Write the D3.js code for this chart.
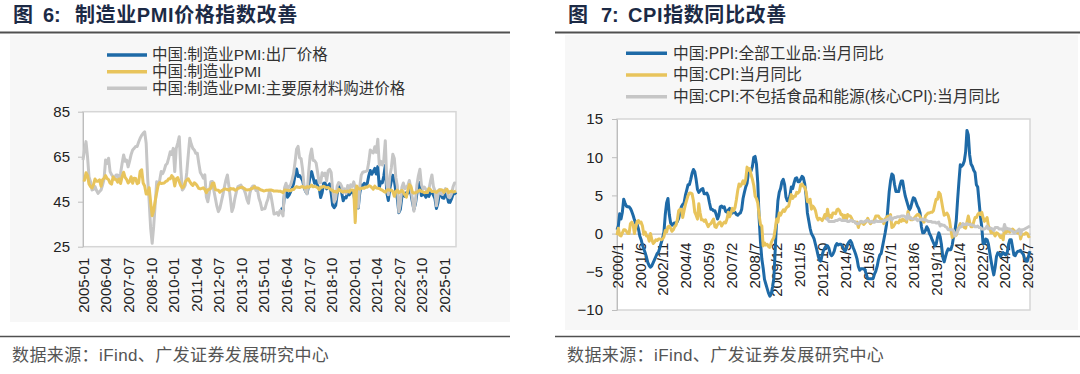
<!DOCTYPE html>
<html><head><meta charset="utf-8">
<script src="https://cdn.jsdelivr.net/npm/d3@7"></script>
<style>
body{margin:0;background:#fff}
svg{display:block}
</style></head>
<body>
<svg id="c" width="1080" height="374"></svg>
<script>
// ---------------- DATA ----------------
// Left chart: monthly 2005-01 .. 2025-09
const pmiStart = [2005, 1];
const pmiTickLabels = ["2005-01","2006-04","2007-07","2008-10","2010-01","2011-04","2012-07","2013-10","2015-01","2016-04","2017-07","2018-10","2020-01","2021-04","2022-07","2023-10","2025-01"];
const pmiYTicks = [25, 45, 65, 85];

const pmi = [
54.7,54.5,57.9,56.7,52.9,51.7,51.1,52.6,55.1,54.1,54.1,54.7,
51.9,54.8,55.3,56.6,55.3,54.8,53.3,52.8,56.0,55.0,54.9,53.7,
55.1,53.1,56.1,58.1,55.8,54.9,53.3,54.0,56.1,53.2,55.4,55.3,
53.0,53.4,58.4,59.2,53.3,52.0,48.4,48.4,51.2,44.6,38.8,41.2,
45.3,49.0,52.4,53.5,53.1,53.2,53.3,54.0,54.3,55.2,55.2,56.6,
55.8,52.0,55.1,55.7,53.9,52.1,51.2,51.7,53.8,54.7,55.2,53.9,
52.9,52.2,53.4,52.9,52.0,50.9,50.7,50.9,51.2,50.4,49.0,50.3,
50.5,51.0,53.1,53.3,50.4,50.2,50.1,49.2,49.8,50.2,50.6,50.6,
50.4,50.1,50.9,50.6,50.8,50.1,50.3,51.0,51.1,51.4,51.4,51.0,
50.5,50.2,50.3,50.4,50.8,51.0,51.7,51.1,51.1,50.8,50.3,50.1,
49.8,49.9,50.1,50.1,50.2,50.2,50.0,49.7,49.8,49.8,49.6,49.7,
49.4,49.0,50.2,50.1,50.1,50.0,49.9,50.4,50.4,51.2,51.7,51.4,
51.3,51.6,51.8,51.2,51.2,51.7,51.4,51.7,52.4,51.6,51.8,51.6,
51.3,50.3,51.5,51.4,51.9,51.5,51.2,51.3,50.8,50.2,50.0,49.4,
49.5,49.2,50.5,50.1,49.4,49.4,49.7,49.5,49.8,49.3,50.2,50.2,
50.0,35.7,52.0,50.8,50.6,50.9,51.1,51.0,51.5,51.4,52.1,51.9,
51.3,50.6,51.9,51.1,51.0,50.9,50.4,50.1,49.6,49.2,50.1,50.3,
50.1,50.2,49.5,47.4,49.6,50.2,49.0,49.4,50.1,49.2,48.0,47.0,
50.1,52.6,51.9,49.2,48.8,49.0,49.3,49.7,50.2,49.5,49.4,49.0,
49.2,49.1,50.8,50.4,49.5,49.5,49.4,49.1,49.8,50.1,50.3,50.1,
49.1,50.2,50.5,49.0,49.5,49.7,49.3,49.4,49.8
];

const pmiInput = [
63.5,68.0,71.7,65.0,56.0,53.9,50.2,50.5,51.7,50.0,48.7,49.5,
50.2,52.4,55.0,63.5,62.0,64.3,58.4,57.0,56.1,55.5,56.9,56.9,
53.9,57.6,62.0,65.8,63.0,63.5,60.5,63.0,66.0,68.0,68.7,69.5,
69.5,71.5,73.2,74.5,75.4,76.1,71.0,55.4,45.0,33.0,26.5,34.0,
44.0,53.9,52.5,54.5,58.4,57.5,59.0,61.3,62.0,64.5,67.2,66.0,
68.7,58.4,68.7,71.0,73.9,60.0,50.2,51.0,52.4,58.0,65.8,73.2,
70.5,68.7,68.0,66.5,66.5,62.0,58.0,56.9,55.5,56.9,47.2,45.0,
49.0,53.9,54.0,50.0,46.5,43.0,40.6,42.0,45.0,48.0,51.5,54.6,
56.9,52.0,46.5,40.6,42.5,46.5,49.5,51.7,52.0,52.4,51.0,50.5,
48.7,46.0,44.3,49.0,51.0,52.0,52.0,50.0,50.2,46.5,44.5,41.5,
41.9,41.9,44.4,46.2,49.6,47.7,43.6,39.5,39.7,40.2,39.0,41.1,
40.4,38.7,51.2,53.2,50.2,51.8,52.4,54.7,57.5,62.6,68.3,69.6,
64.5,64.2,59.3,51.8,49.6,48.5,57.9,65.3,68.4,63.4,63.2,62.2,
58.0,53.4,53.4,57.9,56.7,57.7,54.3,58.7,59.4,58.0,50.3,44.8,
46.3,51.9,53.5,53.1,51.8,49.0,50.7,48.6,52.2,50.4,52.5,51.8,
53.8,51.4,45.5,42.5,51.6,56.8,58.1,58.3,58.5,58.8,62.6,68.0,
67.1,66.7,69.4,66.9,72.8,61.2,62.9,61.3,63.5,72.1,52.9,48.1,
56.4,60.0,66.1,64.2,55.8,52.0,40.4,44.3,51.3,53.3,50.7,51.6,
52.2,54.4,50.9,46.4,40.8,45.0,52.4,56.5,59.4,52.6,50.7,51.5,
50.4,50.1,50.5,54.0,56.9,51.7,49.9,43.2,47.8,50.4,48.6,48.2,
49.5,50.8,49.8,47.0,46.9,48.4,51.5,53.3,53.2
];

// output price index starts 2016-01
const pmiOutputStart = [2016, 1];
const pmiOutput = [
42.5,41.0,48.6,50.7,47.0,47.9,49.4,51.1,53.0,56.8,59.5,56.2,
56.6,55.6,54.4,51.3,49.6,48.6,52.2,56.4,58.4,55.7,53.2,54.3,
52.0,51.3,46.9,49.0,53.2,53.3,50.7,52.0,52.9,48.8,43.3,42.3,
43.3,48.5,51.4,52.0,49.0,45.4,46.9,46.7,49.9,48.0,49.0,49.2,
48.7,43.8,43.4,42.2,48.7,52.4,52.2,53.2,52.5,53.1,56.5,58.9,
57.2,58.5,59.8,57.3,60.6,51.4,53.8,53.4,56.4,61.1,48.9,45.5,
50.9,54.1,56.7,54.4,49.5,46.3,40.1,41.6,47.1,48.7,47.4,49.0,
48.8,51.2,48.6,44.9,41.6,43.9,48.6,52.0,53.5,47.7,48.2,48.2,
47.0,48.1,47.4,49.1,49.3,47.9,46.3,42.0,44.5,48.9,48.2,46.7,
46.5,48.5,47.9,44.8,44.7,46.2,48.3,49.1,48.2
];

// Right chart: monthly 2000-01 .. 2025-09
const cpiStart = [2000, 1];
const cpiTickLabels = ["2000/1","2001/6","2002/11","2004/4","2005/9","2007/2","2008/7","2009/12","2011/5","2012/10","2014/3","2015/8","2017/1","2018/6","2019/11","2021/4","2022/9","2024/2","2025/7"];
const cpiYTicks = [-10, -5, 0, 5, 10, 15];

const ppi = [
0.5,1.0,2.6,1.9,2.8,4.5,4.0,3.6,3.5,3.5,3.3,2.9,
2.4,1.8,1.3,1.2,0.6,-0.3,-0.8,-1.5,-2.0,-2.5,-3.1,-3.8,
-4.2,-4.4,-4.2,-3.8,-3.4,-3.0,-2.6,-2.4,-1.8,-1.2,-0.6,0.2,
2.5,4.0,4.6,2.5,1.4,1.1,1.3,1.4,1.3,1.6,2.0,2.8,
3.5,3.8,4.0,5.0,5.7,6.4,6.4,7.1,7.9,8.4,8.1,7.1,
5.8,5.4,5.6,5.8,5.9,5.2,5.2,5.3,4.9,4.0,3.2,3.2,
3.0,3.0,2.5,1.9,2.4,3.5,3.6,3.4,3.5,2.9,2.8,3.1,
3.3,2.6,2.7,2.9,2.8,2.5,2.4,2.6,2.7,3.2,4.6,5.4,
6.1,6.6,8.0,8.1,8.2,8.8,10.0,10.1,9.1,6.6,2.0,-1.1,
-3.3,-4.5,-6.0,-6.6,-7.2,-7.8,-8.2,-7.9,-7.0,-5.8,-2.1,1.7,
4.3,5.4,5.9,6.8,7.1,6.4,4.8,4.3,4.3,5.0,6.1,5.9,
6.6,7.2,7.3,6.8,6.8,7.1,7.5,7.3,6.5,5.0,2.7,1.7,
0.7,0.0,-0.3,-0.7,-1.4,-2.1,-2.9,-3.5,-3.6,-2.8,-2.2,-1.9,
-1.6,-1.6,-1.9,-2.6,-2.9,-2.7,-2.3,-1.6,-1.3,-1.5,-1.4,-1.4,
-1.6,-2.0,-2.3,-2.0,-1.4,-1.1,-0.9,-1.2,-1.8,-2.2,-2.7,-3.3,
-4.3,-4.8,-4.6,-4.6,-4.6,-4.8,-5.4,-5.9,-5.9,-5.9,-5.9,-5.9,
-5.3,-4.9,-4.3,-3.4,-2.8,-2.6,-1.7,-0.8,0.1,1.2,3.3,5.5,
6.9,7.8,7.6,6.4,5.5,5.5,5.5,6.3,6.9,6.9,5.8,4.9,
4.3,3.7,3.1,3.4,4.1,4.7,4.6,4.1,3.6,3.3,2.7,0.9,
0.1,0.1,0.4,0.9,0.6,0.0,-0.3,-0.8,-1.2,-1.6,-1.4,-0.5,
0.1,-0.4,-1.5,-3.1,-3.7,-3.0,-2.4,-2.0,-2.1,-2.1,-1.5,-0.4,
0.3,1.7,4.4,6.8,9.0,8.8,9.0,9.5,10.7,13.5,12.9,10.3,
9.1,8.8,8.3,8.0,6.4,6.1,4.2,2.3,0.9,-1.3,-1.3,-0.7,
-0.8,-1.4,-2.5,-3.6,-4.6,-5.4,-4.4,-3.0,-2.5,-2.6,-3.0,-2.7,
-2.5,-2.7,-2.8,-2.5,-1.4,-0.8,-0.8,-1.8,-2.8,-2.9,-2.5,-2.3,
-2.3,-2.2,-2.5,-2.7,-3.3,-3.6,-3.6,-2.9,-2.3
];

const cpi = [
-0.2,0.7,-0.2,-0.3,0.1,0.5,0.5,0.3,0.0,0.0,1.3,1.5,
1.2,0.0,0.8,1.6,1.7,1.4,1.5,1.0,-0.1,0.2,-0.3,-0.3,
-1.0,0.0,-0.8,-1.3,-1.1,-0.8,-0.9,-0.7,-0.7,-0.8,-0.7,-0.4,
0.4,0.2,0.9,1.0,0.7,0.3,0.5,0.9,1.1,1.8,3.0,3.2,
3.2,2.1,3.0,3.8,4.4,5.0,5.3,5.3,5.2,4.3,2.8,2.4,
1.9,3.9,2.7,1.8,1.8,1.6,1.8,1.3,0.9,1.2,1.3,1.6,
1.9,0.9,0.8,1.2,1.4,1.5,1.0,1.3,1.5,1.4,1.9,2.8,
2.2,2.7,3.3,3.0,3.4,4.4,5.6,6.5,6.2,6.5,6.9,6.5,
7.1,8.7,8.3,8.5,7.7,7.1,6.3,4.9,4.6,4.0,2.4,1.2,
1.0,-1.6,-1.2,-1.5,-1.4,-1.7,-1.8,-1.2,-0.8,-0.5,0.6,1.9,
1.5,2.7,2.4,2.8,3.1,2.9,3.3,3.5,3.6,4.4,5.1,4.6,
4.9,4.9,5.4,5.3,5.5,6.4,6.5,6.2,6.1,5.5,4.2,4.1,
4.5,3.2,3.6,3.4,3.0,2.2,1.8,2.0,1.9,1.7,2.0,2.5,
2.0,3.2,2.1,2.4,2.1,2.7,2.7,2.6,3.1,3.2,3.0,2.5,
2.5,2.0,2.4,1.8,2.5,2.3,2.3,2.0,1.6,1.6,1.4,1.5,
0.8,1.4,1.4,1.5,1.2,1.4,1.6,2.0,1.6,1.3,1.5,1.6,
1.8,2.3,2.3,2.3,2.0,1.9,1.8,1.3,1.9,2.1,2.3,2.1,
2.5,0.8,0.9,1.2,1.5,1.5,1.4,1.8,1.6,1.9,1.7,1.8,
1.5,2.9,2.1,1.8,1.8,1.9,2.1,2.3,2.5,2.5,2.2,1.9,
1.7,1.5,2.3,2.5,2.7,2.7,2.8,2.8,3.0,3.8,4.5,4.5,
5.4,5.2,4.3,3.3,2.4,2.5,2.7,2.4,1.7,0.5,-0.5,0.2,
-0.3,-0.2,0.4,0.9,1.3,1.1,1.0,0.8,0.7,1.5,2.3,1.5,
0.9,0.9,1.5,2.1,2.1,2.5,2.7,2.5,2.8,2.1,1.6,1.8,
2.1,1.0,0.7,0.1,0.2,0.0,-0.3,0.1,0.0,-0.2,-0.5,-0.3,
-0.8,0.7,0.1,0.3,0.3,0.2,0.5,0.6,0.4,0.3,0.2,0.1,
0.5,-0.7,-0.1,-0.1,-0.1,0.1,0.0,-0.4,-0.3
];

// core CPI starts 2013-01
const coreStart = [2013, 1];
const coreCpi = [
1.7,2.0,1.6,1.6,1.6,1.6,1.6,1.7,1.7,1.8,1.9,1.8,
1.7,1.7,1.7,1.7,1.6,1.6,1.7,1.7,1.6,1.6,1.4,1.3,
1.3,1.5,1.6,1.5,1.5,1.6,1.7,1.7,1.6,1.5,1.6,1.5,
1.5,1.7,1.6,1.6,1.6,1.6,1.6,1.7,1.7,1.8,1.9,1.9,
2.2,1.8,2.0,2.1,2.1,2.2,2.2,2.2,2.3,2.3,2.3,2.2,
1.9,2.5,2.0,2.1,1.9,1.9,1.9,2.0,1.7,1.8,1.8,1.8,
1.9,1.8,1.8,1.7,1.6,1.6,1.6,1.5,1.5,1.5,1.4,1.4,
1.5,1.0,1.2,1.1,1.1,0.9,0.8,0.5,0.5,0.5,0.5,0.4,
-0.3,0.0,0.3,0.7,0.9,0.9,1.3,1.2,1.2,1.3,1.2,1.2,
1.2,1.1,1.1,0.9,0.9,1.0,0.8,0.8,0.6,0.6,0.6,0.7,
1.0,0.6,0.7,0.7,0.6,0.4,0.8,0.8,0.8,0.6,0.6,0.6,
0.4,1.2,0.6,0.7,0.6,0.6,0.4,0.3,0.1,0.2,0.3,0.4,
0.6,-0.1,0.5,0.5,0.6,0.7,0.8,0.9,1.0
];

const leftNames = ["中国:制造业PMI:出厂价格","中国:制造业PMI","中国:制造业PMI:主要原材料购进价格"];
const rightNames = ["中国:PPI:全部工业品:当月同比","中国:CPI:当月同比","中国:CPI:不包括食品和能源(核心CPI):当月同比"];
const leftTitle = ["图", "6:", "制造业PMI价格指数改善"];
const rightTitle = ["图", "7:", "CPI指数同比改善"];
const sourceText = "数据来源：iFind、广发证券发展研究中心";

// ---------------- HELPERS ----------------
const COL = {blue:"#1e6aa7", yellow:"#e8c45c", gray:"#c6c6c6"};
const FONT = '"Liberation Sans", Arial, "Noto Sans CJK SC", sans-serif';
const svg = d3.select("#c").style("font-family", FONT);

function months(start, n, sep, pad) {
  const out = [];
  let [y, m] = start;
  for (let i = 0; i < n; i++) {
    out.push(y + sep + (pad && m < 10 ? "0" + m : m));
    m++; if (m > 12) { m = 1; y++; }
  }
  return out;
}
function offsetOf(start, sub) { return (sub[0]-start[0])*12 + (sub[1]-start[1]); }

// ---------------- FRAME ----------------
function frame(left, x0, x1, title, tx) {
  svg.append("rect").attr("x", left ? 10 : 565).attr("y", 35)
    .attr("width", left ? 500 : 513).attr("height", left ? 287 : 295)
    .attr("fill", "#f7f7f7");
  const t = svg.append("text").attr("y", 22)
    .attr("font-size", 20).attr("font-weight", "bold").attr("fill", "#1c2a45");
  title.forEach((s, i) => t.append("tspan").attr("x", tx[i])
    .attr("letter-spacing", i === 2 ? 0.6 : 0).text(s));
  svg.append("line").attr("x1", x0).attr("x2", x1).attr("y1", 32.5).attr("y2", 32.5)
    .attr("stroke", "#505050").attr("stroke-width", 2);
  svg.append("line").attr("x1", x0).attr("x2", x1).attr("y1", 336.5).attr("y2", 336.5)
    .attr("stroke", "#505050").attr("stroke-width", 1.5);
  svg.append("text").attr("x", left ? 12 : 567).attr("y", 361)
    .attr("font-size", 17).attr("fill", "#555").attr("letter-spacing", 0.4).text(sourceText);
}
frame(true, 0, 510, leftTitle, [13, 43, 75]);
frame(false, 555, 1080, rightTitle, [568, 601, 628]);

// ---------------- LEFT CHART ----------------
(function(){
  const L = 83, R = 456, T = 111.7, B = 246.7;
  const cats = months(pmiStart, pmi.length, "-", true);
  const x = d3.scalePoint().domain(cats).range([L, R]);
  const y = d3.scaleLinear().domain([25, 85]).range([B, T]);
  svg.append("rect").attr("x", L).attr("y", T).attr("width", R-L).attr("height", B-T)
    .attr("fill", "#fff").attr("stroke", "#d6d6d6").attr("stroke-width", 1.5);

  const ya = svg.append("g").attr("transform", `translate(${L},0)`)
    .call(d3.axisLeft(y).tickValues(pmiYTicks).tickSize(5).tickSizeOuter(0).tickPadding(8));
  ya.select(".domain").attr("stroke", "#bdbdbd");
  ya.selectAll(".tick line").attr("stroke", "#bdbdbd");
  ya.selectAll("text").attr("font-size", 15).attr("fill", "#222").style("font-family", FONT);

  const xa = svg.append("g").attr("transform", `translate(0,${B})`)
    .call(d3.axisBottom(x).tickValues(pmiTickLabels).tickSize(0).tickSizeOuter(0));
  xa.select(".domain").remove();
  xa.selectAll("text").attr("font-size", 15).attr("fill", "#222").style("font-family", FONT)
    .attr("transform", "rotate(-90)").attr("text-anchor", "end")
    .attr("x", -11).attr("y", 0).attr("dy", "0.36em");

  const line = d3.line().defined(d => d[1] != null).x(d => x(d[0])).y(d => y(d[1]));
  const outOff = offsetOf(pmiStart, pmiOutputStart);
  const sOut = pmiOutput.map((v, i) => [cats[i + outOff], v]);
  const sPmi = pmi.map((v, i) => [cats[i], v]);
  const sIn = pmiInput.map((v, i) => [cats[i], v]);
  [[sOut, COL.blue], [sIn, COL.gray], [sPmi, COL.yellow]].forEach(([s, c]) => {
    svg.append("path").datum(s).attr("d", line).attr("fill", "none")
      .attr("stroke", c).attr("stroke-width", 3).attr("stroke-linejoin", "round");
  });

  const ly = [55, 71.7, 88.3];
  [COL.blue, COL.yellow, COL.gray].forEach((c, i) => {
    svg.append("line").attr("x1", 107).attr("x2", 147).attr("y1", ly[i]).attr("y2", ly[i])
      .attr("stroke", c).attr("stroke-width", 3.5);
    svg.append("text").attr("x", 152).attr("y", ly[i]).attr("dy", "0.35em")
      .attr("font-size", 15.5).attr("fill", "#333").text(leftNames[i]);
  });
})();

// ---------------- RIGHT CHART ----------------
(function(){
  const L = 617, R = 1030, T = 119, B = 310;
  const cats = months(cpiStart, cpi.length, "/", false);
  const x = d3.scalePoint().domain(cats).range([L, R]);
  const y = d3.scaleLinear().domain([-10, 15]).range([B, T]);
  svg.append("rect").attr("x", L).attr("y", T).attr("width", R-L).attr("height", B-T)
    .attr("fill", "#fff").attr("stroke", "#d6d6d6").attr("stroke-width", 1.5);

  const ya = svg.append("g").attr("transform", `translate(${L},0)`)
    .call(d3.axisLeft(y).tickValues(cpiYTicks).tickSize(5).tickSizeOuter(0).tickPadding(9));
  ya.select(".domain").attr("stroke", "#bdbdbd");
  ya.selectAll(".tick line").attr("stroke", "#bdbdbd");
  ya.selectAll("text").attr("font-size", 15).attr("fill", "#222").style("font-family", FONT);

  const xa = svg.append("g").attr("transform", `translate(0,${y(0)})`)
    .call(d3.axisBottom(x).tickValues(cpiTickLabels).tickSize(0).tickSizeOuter(0));
  xa.select(".domain").attr("stroke", "#bdbdbd").attr("stroke-width", 1.2);
  xa.selectAll("text").attr("font-size", 15).attr("fill", "#222").style("font-family", FONT)
    .attr("transform", "rotate(-90)").attr("text-anchor", "end")
    .attr("x", -9).attr("y", 0).attr("dy", "0.36em");

  const line = d3.line().defined(d => d[1] != null).x(d => x(d[0])).y(d => y(d[1]));
  const coreOff = offsetOf(cpiStart, coreStart);
  const sPpi = ppi.map((v, i) => [cats[i], v]);
  const sCpi = cpi.map((v, i) => [cats[i], v]);
  const sCore = coreCpi.map((v, i) => [cats[i + coreOff], v]);
  [[sPpi, COL.blue], [sCpi, COL.yellow], [sCore, COL.gray]].forEach(([s, c]) => {
    svg.append("path").datum(s).attr("d", line).attr("fill", "none")
      .attr("stroke", c).attr("stroke-width", 3).attr("stroke-linejoin", "round");
  });

  const ly = [53.3, 75, 96.7];
  [COL.blue, COL.yellow, COL.gray].forEach((c, i) => {
    svg.append("line").attr("x1", 626).attr("x2", 667).attr("y1", ly[i]).attr("y2", ly[i])
      .attr("stroke", c).attr("stroke-width", 3.5);
    svg.append("text").attr("x", 673).attr("y", ly[i]).attr("dy", "0.35em")
      .attr("font-size", 15.7).attr("fill", "#333").text(rightNames[i]);
  });
})();
</script>
</body></html>
